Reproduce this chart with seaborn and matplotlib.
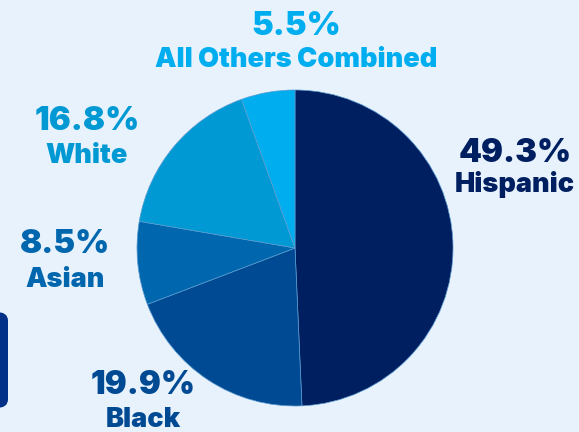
import matplotlib
matplotlib.use("Agg")
import matplotlib.pyplot as plt
import seaborn as sns
from matplotlib.patches import FancyBboxPatch

groups = ["Hispanic", "Black", "Asian", "White", "All Others Combined"]
shares = [49.3, 19.9, 8.5, 16.8, 5.5]
pct_labels = ["49.3%", "19.9%", "8.5%", "16.8%", "5.5%"]
colors = ["#001F60", "#004A93", "#0066AE", "#0099D3", "#00AEEF"]

BG = "#E8F2FD"
sns.set_theme(style="white")
plt.rcParams["font.family"] = ["Inter", "DejaVu Sans"]

W, H = 579, 432
fig = plt.figure(figsize=(W / 100, H / 100), dpi=100, facecolor=BG)

# pie axes: center (295, 248) px from top, radius 158
cx, cy, r = 295, 248, 158
ax = fig.add_axes([(cx - r) / W, (H - cy - r) / H, 2 * r / W, 2 * r / H])
ax.set_facecolor(BG)
ax.pie(shares, colors=colors, startangle=90, counterclock=False, radius=1,
       wedgeprops=dict(edgecolor="#5A9BD0", linewidth=0.5))
ax.set_xlim(-1, 1)
ax.set_ylim(-1, 1)
ax.set_axis_off()

# label positions (x center, baseline of pct, baseline of name) in px from top
pos = {
    "Hispanic": (515, 162, 192),
    "Black": (143, 394, 427),
    "Asian": (65, 253, 287),
    "White": (87, 130, 163),
    "All Others Combined": (296, 35, 67),
}
for g, p, c in zip(groups, pct_labels, colors):
    x, yb1, yb2 = pos[g]
    fig.text(x / W, 1 - yb1 / H, p, ha="center", va="baseline", color=c,
             fontsize=23.5, fontweight=900)
    fig.text(x / W, 1 - yb2 / H, g, ha="center", va="baseline", color=c,
             fontsize=19.5, fontweight=900)

# partial rounded box at left edge
box = FancyBboxPatch((-20 / W, 1 - 408 / H), 28 / W, 96 / H,
                     boxstyle="round,pad=0,rounding_size=0.02",
                     transform=fig.transFigure, facecolor="#003087",
                     edgecolor="none")
fig.patches.append(box)

fig.savefig("out.png", dpi=100, facecolor=BG)
